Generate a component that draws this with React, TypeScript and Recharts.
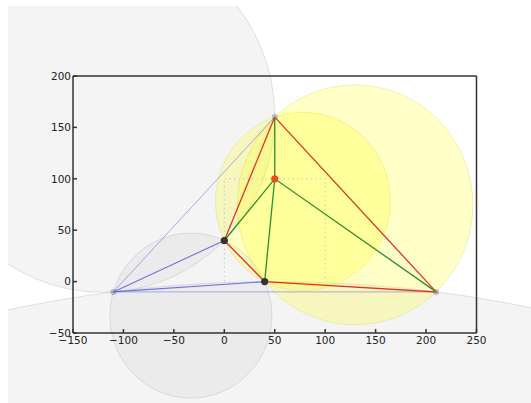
import React from 'react';
import { ComposedChart, Scatter, XAxis, YAxis, ReferenceArea } from 'recharts';

// Points of the triangulation
const pointNames = ['A', 'B', 'C', 'D', 'E', 'F'];
const pointX = [-110, 0, 40, 50, 50, 210];
const pointY = [-10, 40, 0, 160, 100, -10];

// Axis ticks
const xTicks = [-150, -100, -50, 0, 50, 100, 150, 200, 250];
const yTicks = [-50, 0, 50, 100, 150, 200];

// Circumcircles of triangles (centre x, centre y, radius)
const circleNames = ['ABD', 'ABC', 'ACF', 'BCD', 'CDF'];
const circleCX = [-121.36, -33.13, 50, 77.94, 129.69];
const circleCY = [160.98, -33.13, -1280, 77.94, 74.69];
const circleR = [171.36, 80.28, 1280.04, 86.68, 116.72];
const circleKind = ['old', 'old', 'old', 'bad', 'bad'];

// Edges as polylines through named points
const blueStrong = ['B', 'A', 'C'];
const blueLight = ['D', 'A', 'F'];
const redPath = ['D', 'B', 'C', 'F', 'D'];
const greenPathA = ['D', 'E', 'B'];
const greenPathB = ['C', 'E', 'F'];

// Dotted guide
const guideX = [0, 0, 100, 100];
const guideY = [0, 100, 100, 0];

// Dot groups
const grayDots = ['A', 'D', 'F'];
const darkDots = ['B', 'C'];
const newDots = ['E'];

const pt = (n: string) => {
  const i = pointNames.indexOf(n);
  return { x: pointX[i], y: pointY[i] };
};
const path = (names: string[]) => names.map(pt);
const guideData = guideX.map((x, i) => ({ x, y: guideY[i] }));

const fmt = (v: number) => String(v).replace('-', '\u2212');

const axisStyle = { stroke: '#333333', strokeWidth: 1.5 };
const tickFont = { fill: '#222', fontSize: 10.5, fontFamily: 'DejaVu Sans' };

const makeEllipse = (fill: string, fillOpacity: number, stroke: string, strokeOpacity: number) => (props: any) => {
  const { x, y, width, height } = props;
  return (
    <ellipse
      cx={x + width / 2}
      cy={y + height / 2}
      rx={Math.abs(width) / 2}
      ry={Math.abs(height) / 2}
      fill={fill}
      fillOpacity={fillOpacity}
      stroke={stroke}
      strokeOpacity={strokeOpacity}
      strokeWidth={1}
    />
  );
};
const grayShape = makeEllipse('#c0c0c0', 0.18, '#909090', 0.25);
const yellowShape = makeEllipse('#ffff00', 0.22, '#d0d040', 0.3);

const noDot = () => <g />;
const dot = (fill: string, r: number, op: number) => (p: any) => (
  <circle cx={p.cx} cy={p.cy} r={r} fill={fill} fillOpacity={op} />
);

export default function App() {
  const order = [0, 1, 2, 3, 4];
  return (
    <div style={{ position: 'absolute', left: 8, top: 6 }}>
      <ComposedChart width={523} height={397} margin={{ top: 69, right: 53.5, bottom: 40, left: 5 }}>
        <XAxis
          xAxisId="b"
          type="number"
          dataKey="x"
          domain={[-150, 250]}
          ticks={xTicks}
          interval={0}
          orientation="bottom"
          height={30}
          tickSize={-4}
          tickMargin={7.5}
          tickFormatter={fmt}
          axisLine={axisStyle}
          tickLine={axisStyle}
          tick={tickFont}
        />
        <XAxis
          xAxisId="t"
          type="number"
          dataKey="x"
          domain={[-150, 250]}
          ticks={xTicks}
          interval={0}
          orientation="top"
          height={1}
          tickSize={-4}
          tick={false}
          axisLine={axisStyle}
          tickLine={axisStyle}
        />
        <YAxis
          yAxisId="l"
          type="number"
          dataKey="y"
          domain={[-50, 200]}
          ticks={yTicks}
          interval={0}
          orientation="left"
          width={60}
          tickSize={-4}
          tickMargin={6}
          tickFormatter={fmt}
          axisLine={axisStyle}
          tickLine={axisStyle}
          tick={tickFont}
        />
        <YAxis
          yAxisId="r"
          type="number"
          dataKey="y"
          domain={[-50, 200]}
          ticks={yTicks}
          interval={0}
          orientation="right"
          width={1}
          tickSize={-4}
          tick={false}
          axisLine={axisStyle}
          tickLine={axisStyle}
        />
        {order
          .filter((i) => circleKind[i] === 'old')
          .map((i) => (
            <ReferenceArea
              key={circleNames[i]}
              xAxisId="b"
              yAxisId="l"
              x1={circleCX[i] - circleR[i]}
              x2={circleCX[i] + circleR[i]}
              y1={circleCY[i] - circleR[i]}
              y2={circleCY[i] + circleR[i]}
              ifOverflow="visible"
              shape={grayShape}
            />
          ))}
        <Scatter
          xAxisId="b"
          yAxisId="l"
          data={guideData}
          line={{ stroke: '#c8c8c8', strokeWidth: 1, strokeDasharray: '1.5 3' }}
          shape={noDot}
          isAnimationActive={false}
        />
        <Scatter
          xAxisId="b"
          yAxisId="l"
          data={path(blueLight)}
          line={{ stroke: '#6a6ae8', strokeWidth: 1, strokeOpacity: 0.55 }}
          shape={noDot}
          isAnimationActive={false}
        />
        <Scatter
          xAxisId="b"
          yAxisId="l"
          data={path(blueStrong)}
          line={{ stroke: '#5a5ae0', strokeWidth: 1.1, strokeOpacity: 0.85 }}
          shape={noDot}
          isAnimationActive={false}
        />
        {order
          .filter((i) => circleKind[i] === 'bad')
          .map((i) => (
            <ReferenceArea
              key={circleNames[i]}
              xAxisId="b"
              yAxisId="l"
              x1={circleCX[i] - circleR[i]}
              x2={circleCX[i] + circleR[i]}
              y1={circleCY[i] - circleR[i]}
              y2={circleCY[i] + circleR[i]}
              ifOverflow="visible"
              shape={yellowShape}
            />
          ))}
        <Scatter
          xAxisId="b"
          yAxisId="l"
          data={path(redPath)}
          line={{ stroke: '#e2302a', strokeWidth: 1.3 }}
          shape={noDot}
          isAnimationActive={false}
        />
        <Scatter
          xAxisId="b"
          yAxisId="l"
          data={path(greenPathA)}
          line={{ stroke: '#2a8f2a', strokeWidth: 1.3 }}
          shape={noDot}
          isAnimationActive={false}
        />
        <Scatter
          xAxisId="b"
          yAxisId="l"
          data={path(greenPathB)}
          line={{ stroke: '#2a8f2a', strokeWidth: 1.3 }}
          shape={noDot}
          isAnimationActive={false}
        />
        <Scatter
          xAxisId="b"
          yAxisId="l"
          data={path(grayDots)}
          shape={dot('#777777', 3, 0.45)}
          isAnimationActive={false}
        />
        <Scatter
          xAxisId="b"
          yAxisId="l"
          data={path(darkDots)}
          shape={dot('#333333', 3.6, 1)}
          isAnimationActive={false}
        />
        <Scatter
          xAxisId="b"
          yAxisId="l"
          data={path(newDots)}
          shape={dot('#e4501e', 3.6, 1)}
          isAnimationActive={false}
        />
      </ComposedChart>
    </div>
  );
}
